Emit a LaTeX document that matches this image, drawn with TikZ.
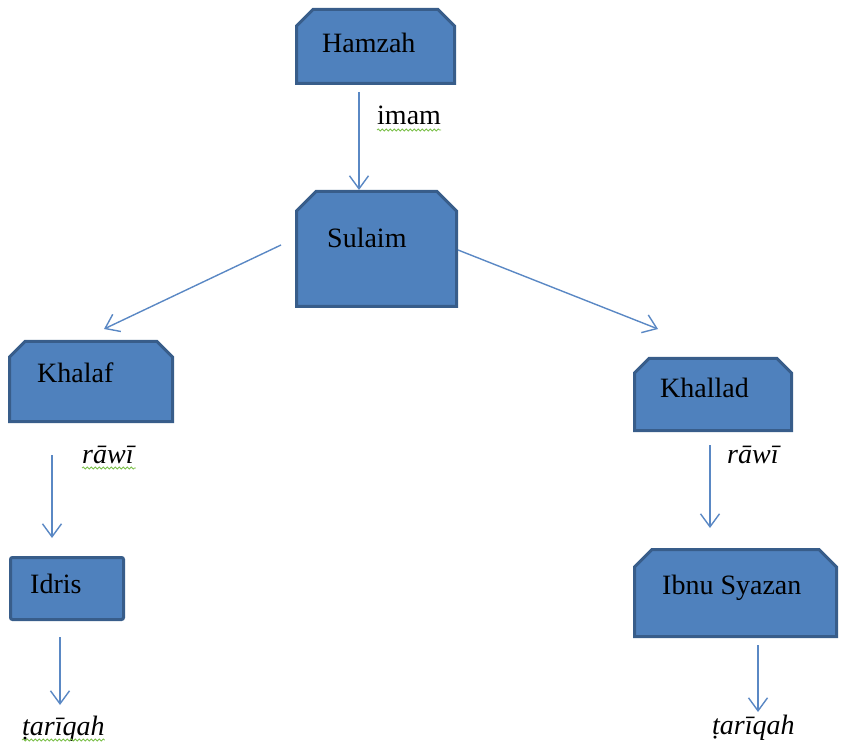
\documentclass[tikz,border=0pt]{standalone}
\usepackage{fontspec}
\setmainfont{Liberation Serif}
\usetikzlibrary{arrows.meta,decorations.pathmorphing}
\definecolor{boxfill}{HTML}{4F81BD}
\definecolor{boxline}{HTML}{385D8A}
\definecolor{arrowc}{HTML}{5A88C4}
\definecolor{squigc}{HTML}{7CC04B}
\tikzset{
  boxarea/.style={rectangle, draw=none, inner sep=0pt, outer sep=1.5pt},
  boxpaint/.style={fill=boxfill, draw=boxline, line width=3pt, line join=miter},
  rbox/.style={rectangle, rounded corners=2pt, fill=boxfill, draw=boxline, line width=3pt, inner sep=0pt},
  lbl/.style={inner sep=0pt, font=\fontsize{28}{32}\selectfont, text=black},
  arr/.style={draw=arrowc, line width=1.4pt, -{Straight Barb[length=13pt,width=19pt]}},
  squig/.style={draw=squigc, line width=0.8pt, decorate, decoration={snake, segment length=4pt, amplitude=1pt}}
}
% #1 node name, #2 chamfer size
\newcommand{\chamferbox}[2]{%
  \path[boxpaint] ([shift={(1.5pt,1.5pt)}]#1.south west) -- ([shift={(1.5pt,-#2)}]#1.north west)
    -- ([shift={(#2,-1.5pt)}]#1.north west) -- ([shift={(-#2,-1.5pt)}]#1.north east)
    -- ([shift={(-1.5pt,-#2)}]#1.north east) -- ([shift={(-1.5pt,1.5pt)}]#1.south east) -- cycle;}
\begin{document}
\begin{tikzpicture}[x=1pt,y=-1pt]
\useasboundingbox (0,0) rectangle (841,743);
% box areas
\node[boxarea, minimum width=158pt, minimum height=74pt] (hamzah) at (375.5,46.5) {};
\node[boxarea, minimum width=160pt, minimum height=115pt] (sulaim) at (376.5,249) {};
\node[boxarea, minimum width=163pt, minimum height=80pt] (khalaf) at (91,381.5) {};
\node[boxarea, minimum width=157pt, minimum height=72pt] (khallad) at (713,394.5) {};
\node[rbox, minimum width=113pt, minimum height=62pt] (idris) at (67,588.5) {};
\node[boxarea, minimum width=202pt, minimum height=87pt] (ibnu) at (735.5,593) {};
\chamferbox{hamzah}{18pt}
\chamferbox{sulaim}{21pt}
\chamferbox{khalaf}{17pt}
\chamferbox{khallad}{16pt}
\chamferbox{ibnu}{19pt}
% texts in boxes
\node[lbl, anchor=base west] (hamzahT) at (322,53) {Hamzah};
\node[lbl, anchor=base west] (sulaimT) at (327,248) {Sulaim};
\node[lbl, anchor=base west] (khalafT) at (37,383) {Khalaf};
\node[lbl, anchor=base west] (khalladT) at (660,398) {Khallad};
\node[lbl, anchor=base west] (idrisT) at (30,593) {Idris};
\node[lbl, anchor=base west] (ibnuT) at (662,594) {Ibnu Syazan};
% labels
\node[lbl, anchor=base west] (imam) at (377,125) {imam};
\node[lbl, anchor=base west] (rawiL) at (82,463) {\textit{rāwī}};
\node[lbl, anchor=base west] (rawiR) at (727,463) {\textit{rāwī}};
\node[lbl, anchor=base west] (tarL) at (22,735) {\textit{ṭarīqah}};
\node[lbl, anchor=base west] (tarR) at (712,734) {\textit{ṭarīqah}};
% connectors
\draw[arr] ([shift={(-16.5pt,-7pt)}]hamzah.south) -- ([shift={(-17.5pt,0pt)}]sulaim.north);
\draw[arr] ([shift={(-14pt,4pt)}]sulaim.west) -- ([shift={(13pt,11pt)}]khalaf.north);
\draw[arr] ([shift={(0pt,-1pt)}]sulaim.east) -- ([shift={(-55pt,28pt)}]khallad.north);
\draw[arr] ([shift={(-39pt,-32pt)}]khalaf.south) -- ([shift={(-15pt,18pt)}]idris.north);
\draw[arr] ([shift={(-3pt,-13pt)}]khallad.south) -- ([shift={(-25.5pt,20pt)}]ibnu.north);
\draw[arr] ([shift={(-7pt,-16pt)}]idris.south) -- ([shift={(38pt,30pt)}]tarL.base west);
\draw[arr] ([shift={(22.5pt,-7pt)}]ibnu.south) -- ([shift={(46pt,22pt)}]tarR.base west);
% spell-check squiggles
\draw[squig] ([yshift=-5pt]imam.base west) -- ([yshift=-5pt]imam.base east);
\draw[squig] ([yshift=-5pt]rawiL.base west) -- ([yshift=-5pt]rawiL.base east);
\draw[squig] ([yshift=-5pt]tarL.base west) -- ([yshift=-5pt]tarL.base east);
\end{tikzpicture}
\end{document}
